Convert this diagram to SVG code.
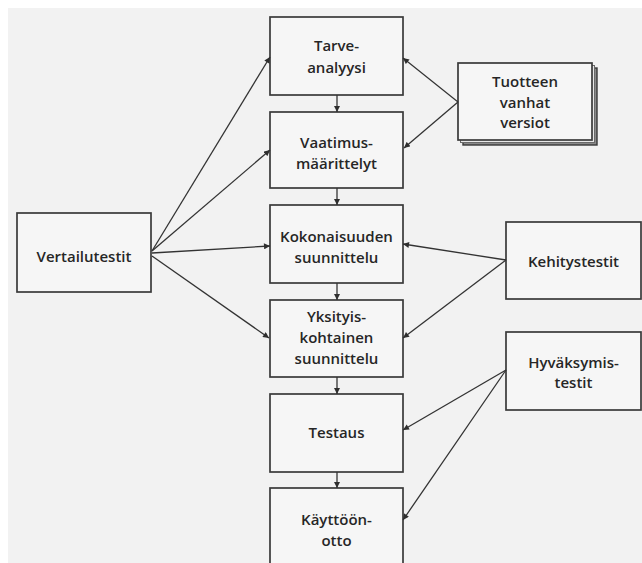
<svg xmlns="http://www.w3.org/2000/svg" width="642" height="563" viewBox="0 0 642 563">
  <defs>
    <marker id="arr" viewBox="0 0 10 10" refX="10" refY="5" markerWidth="7" markerHeight="6" markerUnits="userSpaceOnUse" orient="auto">
      <path d="M0,0 L10,5 L0,10 z" fill="#2e2e2e"/>
    </marker>
    <style>
      .box { fill: #f6f6f6; stroke: #3a3a3a; stroke-width: 1.7; }
      .lbl { font-family: "Open Sans", "Liberation Sans", sans-serif; font-size: 15px; font-weight: 600; fill: #262626; text-anchor: middle; }
      .con { stroke: #333333; stroke-width: 1.3; fill: none; marker-end: url(#arr); }
    </style>
  </defs>

  <rect x="0" y="0" width="642" height="563" fill="#ffffff"/>
  <rect x="8" y="8" width="634" height="555" fill="#f2f2f2"/>

  <g id="tarve">
    <rect class="box" x="270" y="17" width="133" height="78"/>
    <text class="lbl" x="336.5" y="51">Tarve-</text>
    <text class="lbl" x="336.5" y="73">analyysi</text>
  </g>
  <g id="vaatimus">
    <rect class="box" x="270" y="112" width="133" height="76"/>
    <text class="lbl" x="336.5" y="148">Vaatimus-</text>
    <text class="lbl" x="336.5" y="169">määrittelyt</text>
  </g>
  <g id="kokonaisuuden">
    <rect class="box" x="270" y="205" width="133" height="78"/>
    <text class="lbl" x="336.5" y="242">Kokonaisuuden</text>
    <text class="lbl" x="336.5" y="263">suunnittelu</text>
  </g>
  <g id="yksityis">
    <rect class="box" x="270" y="300" width="133" height="77"/>
    <text class="lbl" x="336.5" y="322">Yksityis-</text>
    <text class="lbl" x="336.5" y="343">kohtainen</text>
    <text class="lbl" x="336.5" y="364">suunnittelu</text>
  </g>
  <g id="testaus">
    <rect class="box" x="270" y="394" width="133" height="78"/>
    <text class="lbl" x="336.5" y="438">Testaus</text>
  </g>
  <g id="kayttoonotto">
    <rect class="box" x="270" y="488" width="133" height="85"/>
    <text class="lbl" x="336.5" y="525">Käyttöön-</text>
    <text class="lbl" x="336.5" y="546">otto</text>
  </g>
  <g id="vertailutestit">
    <rect class="box" x="17" y="213" width="134" height="79"/>
    <text class="lbl" x="84" y="262">Vertailutestit</text>
  </g>
  <g id="tuotteen">
    <rect x="463" y="68" width="134" height="77" fill="#8a8a8a" stroke="#3a3a3a" stroke-width="1.4"/>
    <rect x="460.5" y="65.5" width="134" height="77" fill="#e8e8e8" stroke="#6a6a6a" stroke-width="1"/>
    <rect class="box" x="458" y="63" width="134" height="77"/>
    <text class="lbl" x="525" y="87">Tuotteen</text>
    <text class="lbl" x="525" y="108">vanhat</text>
    <text class="lbl" x="525" y="128">versiot</text>
  </g>
  <g id="kehitystestit">
    <rect class="box" x="506" y="222" width="135" height="77"/>
    <text class="lbl" x="573.5" y="267">Kehitystestit</text>
  </g>
  <g id="hyvaksymistestit">
    <rect class="box" x="506" y="332" width="135" height="78"/>
    <text class="lbl" x="573.5" y="368">Hyväksymis-</text>
    <text class="lbl" x="573.5" y="388">testit</text>
  </g>

  <g id="connectors">
    <line class="con" x1="337" y1="95" x2="337" y2="112"/>
    <line class="con" x1="337" y1="188" x2="337" y2="205"/>
    <line class="con" x1="337" y1="283" x2="337" y2="300"/>
    <line class="con" x1="337" y1="377" x2="337" y2="394"/>
    <line class="con" x1="337" y1="472" x2="337" y2="488"/>

    <line class="con" x1="152" y1="251" x2="270" y2="57"/>
    <line class="con" x1="152" y1="251" x2="270" y2="150"/>
    <line class="con" x1="152" y1="253" x2="270" y2="246"/>
    <line class="con" x1="152" y1="256" x2="269" y2="338"/>

    <line class="con" x1="458" y1="102" x2="403" y2="58"/>
    <line class="con" x1="458" y1="102" x2="404" y2="148"/>

    <line class="con" x1="506" y1="260" x2="403" y2="244"/>
    <line class="con" x1="506" y1="260" x2="403" y2="338"/>

    <line class="con" x1="506" y1="370" x2="403" y2="430"/>
    <line class="con" x1="506" y1="370" x2="403" y2="520"/>
  </g>
</svg>
